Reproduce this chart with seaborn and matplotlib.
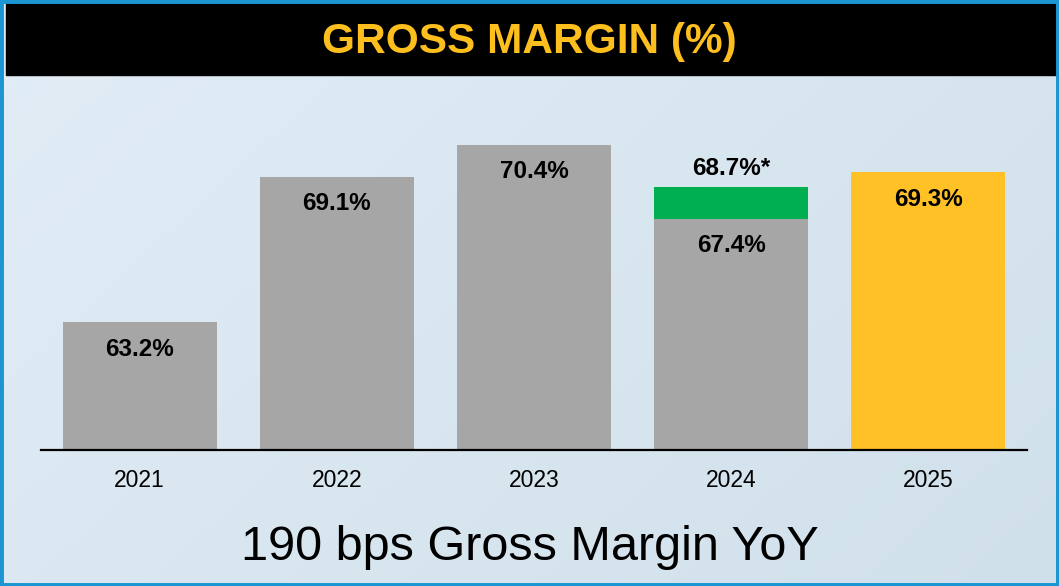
import matplotlib
matplotlib.use("Agg")
import matplotlib.pyplot as plt
import seaborn as sns
import numpy as np
from matplotlib.patches import Rectangle

# data
years = ["2021", "2022", "2023", "2024", "2025"]
margin = [63.2, 69.1, 70.4, 67.4, 69.3]
margin_adj = [63.2, 69.1, 70.4, 68.7, 69.3]
labels = ["63.2%", "69.1%", "70.4%", "67.4%", "69.3%"]
adj_label = "68.7%*"

gray, green, gold = "#a6a6a6", "#00b050", "#ffc125"
base_colors = [gray, gray, gray, gray, gold]
adj_colors = [gray, gray, gray, green, gold]

sns.set_style("white")
plt.rcParams["font.family"] = ["Liberation Sans", "DejaVu Sans"]
plt.rcParams["text.color"] = "black"
plt.rcParams["xtick.color"] = "black"

fig = plt.figure(figsize=(10.59, 5.86), dpi=100)
fig.patch.set_facecolor("#dde9f2")

# soft background gradient
bg = fig.add_axes([0, 0, 1, 1], zorder=-10)
gx, gy = np.meshgrid(np.linspace(0, 1, 200), np.linspace(0, 1, 120))
grad = 0.5 * gx + 0.3 * (1 - gy)
bg.imshow(grad, cmap=sns.blend_palette(["#e2edf6", "#d0e0ea"], as_cmap=True),
          aspect="auto", extent=[0, 1, 0, 1], origin="lower")
bg.axis("off")

# title bar
fig.patches.append(Rectangle((6 / 1059, 1 - 75 / 586), 1, 72 / 586,
                             transform=fig.transFigure, color="black", zorder=1))
fig.text(0.5, 1 - 42 / 586, "GROSS MARGIN (%)", ha="center", va="center",
         fontsize=30.5, fontweight="bold", color="#fdbf1e")

ax = fig.add_axes([41 / 1059, 1 - 450 / 586, 986 / 1059, 360 / 586])
ax.set_facecolor("none")
sns.barplot(x=years, y=margin_adj, hue=years, palette=adj_colors, legend=False,
            width=0.78, saturation=1, linewidth=0, ax=ax)
sns.barplot(x=years, y=margin, hue=years, palette=base_colors, legend=False,
            width=0.78, saturation=1, linewidth=0, ax=ax)
ax.set_ylim(58, 72.63)
ax.set_xlim(-0.5, 4.5)

for i, (v, lab) in enumerate(zip(margin, labels)):
    ax.text(i, v - 1.1, lab, ha="center", va="center", fontsize=17.5,
            fontweight="bold", color="black")
ax.text(3, margin_adj[3] + 0.75, adj_label, ha="center", va="center",
        fontsize=17.5, fontweight="bold", color="black")

sns.despine(ax=ax, left=True)
ax.spines["bottom"].set_linewidth(1.6)
ax.spines["bottom"].set_color("black")
ax.set_yticks([])
ax.set_xlabel("")
ax.set_ylabel("")
ax.tick_params(axis="x", length=0, labelsize=16.5, pad=14, labelcolor="black")

fig.text(0.5, 1 - 548 / 586, "190 bps Gross Margin YoY", ha="center", va="center",
         fontsize=35, color="black")

# blue frame
fig.patches.append(Rectangle((0, 0), 1, 1, transform=fig.transFigure, fill=False,
                             edgecolor="#1b96d2", linewidth=5, zorder=5))

fig.savefig("out.png", dpi=100)
